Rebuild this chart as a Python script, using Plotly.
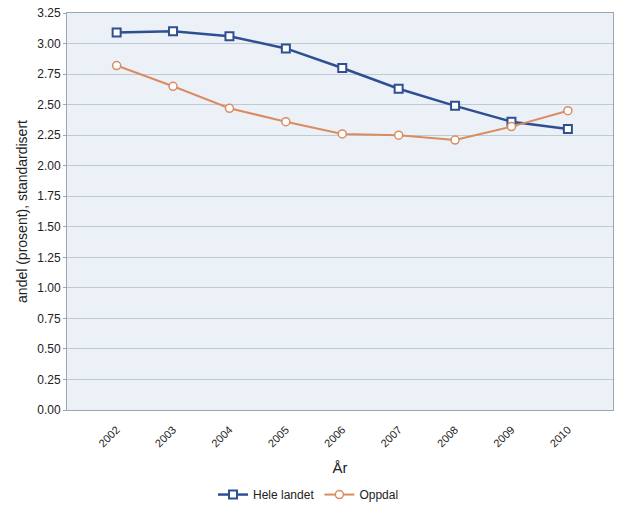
import plotly.graph_objects as go

years = ["2002", "2003", "2004", "2005", "2006", "2007", "2008", "2009", "2010"]
hele_landet = [3.09, 3.10, 3.06, 2.96, 2.80, 2.63, 2.49, 2.36, 2.30]
oppdal = [2.82, 2.65, 2.47, 2.36, 2.26, 2.25, 2.21, 2.32, 2.45]
y_ticks = [i * 0.25 for i in range(14)]

blue = "#2f4f93"
orange = "#d98c62"

fig = go.Figure()
fig.add_trace(go.Scatter(
    x=years, y=hele_landet, name="Hele landet", mode="lines+markers",
    line=dict(color=blue, width=2.5),
    marker=dict(symbol="square", size=8, color="white", line=dict(color=blue, width=2)),
))
fig.add_trace(go.Scatter(
    x=years, y=oppdal, name="Oppdal", mode="lines+markers",
    line=dict(color=orange, width=2),
    marker=dict(symbol="circle", size=8, color="white", line=dict(color=orange, width=1.5)),
))

fig.update_layout(
    width=617, height=506,
    margin=dict(l=67, r=4, t=13, b=96, autoexpand=False),
    paper_bgcolor="white",
    plot_bgcolor="#ecf1f7",
    font=dict(family="Liberation Sans, Arial, sans-serif", size=11, color="#222"),
    showlegend=True,
    legend=dict(orientation="h", xref="container", x=0.5, xanchor="center",
                y=-0.213, yanchor="middle", font=dict(size=12), itemwidth=30),
    xaxis=dict(
        type="category", range=[-0.88, 8.8],
        tickangle=-45, showgrid=False, ticks="outside", ticklen=8, tickcolor="rgba(0,0,0,0)",
        showline=True, linecolor="#9aa6b2", mirror=True,
        title=dict(text="År", font=dict(size=15), standoff=14),
        tickfont=dict(size=11),
    ),
    yaxis=dict(
        range=[0, 3.25], tickvals=y_ticks, tickformat=".2f",
        showgrid=True, gridcolor="#c0c9d2", gridwidth=1,
        ticks="outside", ticklen=3, tickcolor="#9aa6b2",
        showline=True, linecolor="#9aa6b2", mirror=True,
        zeroline=False,
        title=dict(text="andel (prosent), standardisert", font=dict(size=14), standoff=6),
        tickfont=dict(size=12),
    ),
)

fig.write_html("out.html")
